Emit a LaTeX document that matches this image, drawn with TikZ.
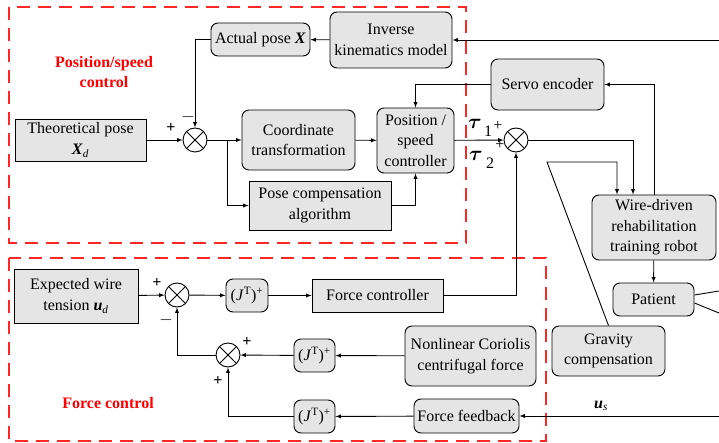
\documentclass[tikz,border=0pt]{standalone}
\usepackage{fontspec}
\setmainfont{Liberation Serif}
\newfontfamily\tnr{Liberation Serif}
\usepackage{bm}
\usetikzlibrary{positioning}

\begin{document}
\begin{tikzpicture}[x=1pt,y=-1pt,font=\tnr\fontsize{16}{20.5}\selectfont,
    blk/.style={draw,fill=gray!20,line width=0.9pt,align=center,inner sep=1pt},
    rblk/.style={blk,rounded corners=7pt},
    sum/.style={circle,draw,line width=0.9pt,minimum size=24pt,inner sep=0pt,
      path picture={\draw (path picture bounding box.north west) -- (path picture bounding box.south east)
        (path picture bounding box.north east) -- (path picture bounding box.south west);}},
    sig/.style={-latex,line width=0.9pt},
    grp/.style={draw=red!85!white,line width=1.3pt,dash pattern=on 13pt off 8pt},
    grplab/.style={text=red,font=\tnr\fontsize{16}{20.5}\selectfont\bfseries,align=center}]
    \useasboundingbox (0,0) rectangle (719,443);

    % dashed groups
    \draw[grp] (9,7) rectangle (466,243);
    \draw[grp] (9,258) rectangle (546,441);
    \node[grplab] (L1) at (104,72) {Position/speed\\control};
    \node[grplab] (L2) at (108,403) {Force control};

    % sum points
    \foreach \x/\y/\lab in {195/140/S1,516/140/S2,177/295/S3,228/355/S4} {
      \node[sum] (\lab) at (\x,\y) {};
    }

    % position/speed loop
    \node[blk,minimum width=131pt,minimum height=42pt] (TP) at (80.5,140) {Theoretical pose\\\textbf{\textit{X}}\textsubscript{\textit{d}}};
    \node[rblk,minimum width=99pt,minimum height=33pt] (AP) at (260.5,39.5) {Actual pose \textbf{\textit{X}}};
    \node[rblk,minimum width=122pt,minimum height=56pt] (IK) at (391,40) {Inverse\\kinematics model};
    \node[rblk,minimum width=113pt,minimum height=60pt] (CT) at (298.5,140) {Coordinate\\transformation};
    \node[blk,minimum width=142pt,minimum height=49pt] (PC) at (320,205.5) {Pose compensation\\algorithm};
    \node[rblk,minimum width=77pt,minimum height=65pt] (PSC) at (415.5,140.5) {Position /\\speed\\controller};
    \node[rblk,minimum width=113pt,minimum height=51pt] (SE) at (547.5,84.5) {Servo encoder};
    \node[rblk,minimum width=124pt,minimum height=65pt] (WR) at (654,227.5) {Wire-driven\\rehabilitation\\training robot};
    \node[rblk,minimum width=81pt,minimum height=33pt] (PA) at (653.5,299.5) {Patient};
    \node[rblk,minimum width=113pt,minimum height=50pt] (GC) at (608.5,351) {Gravity\\compensation};

    % force loop
    \node[blk,minimum width=124pt,minimum height=54pt] (EW) at (76,296) {Expected wire\\tension \textbf{\textit{u}}\textsubscript{\textit{d}}};
    \node[rblk,minimum width=42pt,minimum height=33pt] (J1) at (247,295.5) {(\textit{J}\textsuperscript{T})\textsuperscript{+}};
    \node[blk,minimum width=131pt,minimum height=33pt] (FC) at (377.5,295.5) {Force controller};
    \node[rblk,minimum width=41pt,minimum height=33pt] (J2) at (314.5,355.5) {(\textit{J}\textsuperscript{T})\textsuperscript{+}};
    \node[rblk,minimum width=131pt,minimum height=60pt] (NC) at (470.5,356) {Nonlinear Coriolis\\centrifugal force};
    \node[rblk,minimum width=41pt,minimum height=33pt] (J3) at (314.5,416.5) {(\textit{J}\textsuperscript{T})\textsuperscript{+}};
    \node[rblk,minimum width=105pt,minimum height=34pt] (FF) at (466.5,416) {Force feedback};

    % free ends and corners
    \coordinate (in1) at (719,40);
    \coordinate (in2) at (719,416);
    \coordinate (br) at (227,140);
    \coordinate (gk) at (547,162);
    \coordinate (p1) at (719,291);
    \coordinate (p2) at (719,313);

    \path[sig] (in1) edge (IK.east);
    \path[sig] (IK) edge (AP);
    \draw[sig] (AP.west) -| (S1.north);
    \path[sig] (TP) edge (S1);
    \path[sig] (S1) edge (CT);
    \draw[sig] (br) |- (PC.west);
    \path[sig] (CT) edge (PSC);
    \draw[sig] (PC.east) -| (PSC.south);
    \draw[sig] (SE.west) -| (PSC.north);
    \path[sig] (PSC) edge (S2);
    \draw[sig] (WR.north) |- (SE.east);
    \draw[sig] (S2.east) -| ([xshift=-21pt]WR.north);
    \draw[sig] (GC.north) -- (gk) -| ([xshift=-37pt]WR.north);
    \path[sig] (WR) edge (PA);
    \draw[line width=0.9pt] ([yshift=4.5pt]PA.east) -- (p1);
    \draw[line width=0.9pt] ([yshift=-3.5pt]PA.east) -- (p2);

    \path[sig] (EW) edge (S3);
    \path[sig] (S3) edge (J1);
    \path[sig] (J1) edge (FC);
    \draw[sig] (FC.east) -| (S2.south);
    \draw[sig] (S4.west) -| (S3.south);
    \path[sig] (J2) edge (S4);
    \path[sig] (NC) edge (J2);
    \draw[sig] (J3.west) -| (S4.south);
    \path[sig] (FF) edge (J3);
    \path[sig] (in2) edge (FF.east);

    % signs and signals
    \node (pl1) at (171,128) {\bfseries +};
    \node (mi1) at (188,117) {\bfseries $-$};
    \node (pl3) at (157,283) {\bfseries +};
    \node (mi3) at (166,320) {\bfseries $-$};
    \node (pl4) at (247,342) {\bfseries +};
    \node (pl5) at (218,381) {\bfseries +};
    \node[font=\fontsize{22}{22}\selectfont] (t1) at (475,124) {$\bm{\tau}$};
    \node (n1) at (488,131) {1};
    \node (pl2) at (498,126) {+};
    \node[font=\fontsize{22}{22}\selectfont] (t2) at (476,156) {$\bm{\tau}$};
    \node (n2) at (490,163) {2};
    \node (pl6) at (500,145) {+};
    \node (us) at (601,406) {\textbf{\textit{u}}\textsubscript{\textit{s}}};
\end{tikzpicture}
\end{document}
